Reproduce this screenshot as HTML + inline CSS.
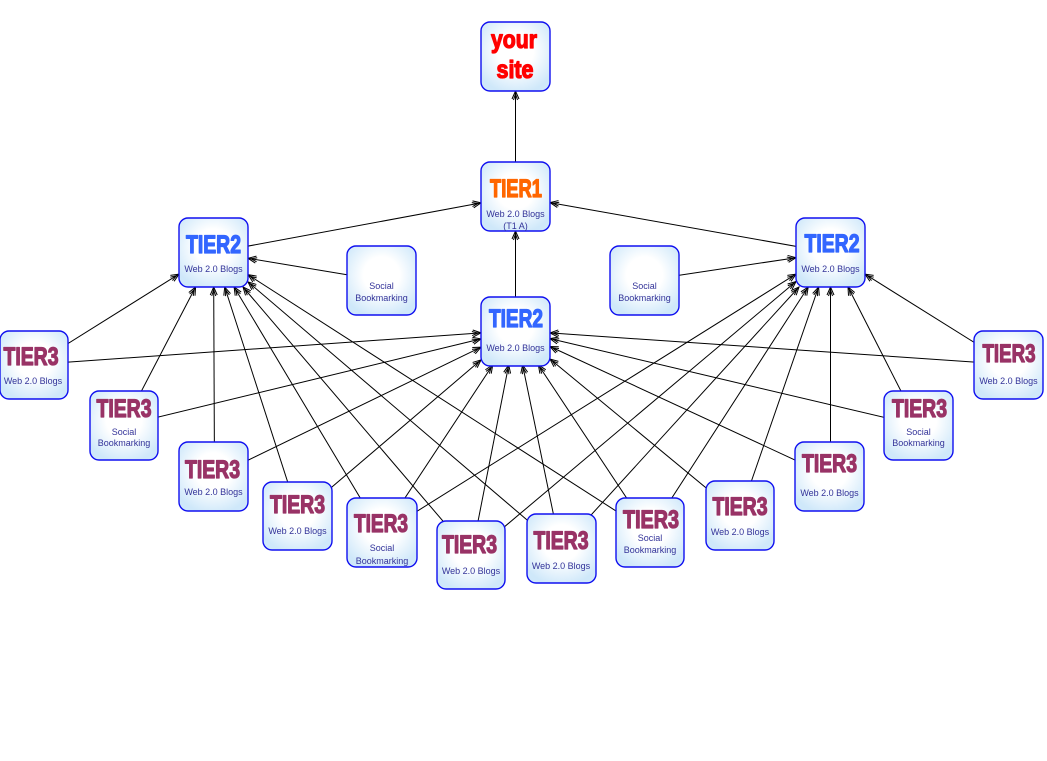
<!DOCTYPE html>
<html><head><meta charset="utf-8"><style>
html,body{margin:0;padding:0;background:#fff;}
svg{display:block;}
.l{stroke:#000;stroke-width:1;marker-end:url(#a);}
.b{fill:url(#g);stroke:#1010f0;stroke-width:1.4;}
.t{font-family:"Liberation Sans",sans-serif;font-weight:700;font-size:25px;text-anchor:middle;stroke-width:1.3;stroke-linejoin:round;}
.t2{fill:#3366ff;stroke:#3366ff;}
.t3{fill:#993366;stroke:#993366;}
.s{font-family:"Liberation Sans",sans-serif;font-size:9px;fill:#333399;text-anchor:middle;}
</style></head><body>
<svg width="1047" height="761" viewBox="0 0 1047 761" xmlns="http://www.w3.org/2000/svg">
<defs>
<radialGradient id="g" cx="50%" cy="42%" r="62%">
<stop offset="0" stop-color="#ffffff"/>
<stop offset="0.42" stop-color="#ffffff"/>
<stop offset="1" stop-color="#cfe8fa"/>
</radialGradient>
<marker id="a" markerWidth="12" markerHeight="10" viewBox="-10 -5 12 10" refX="0" refY="0" orient="auto" markerUnits="userSpaceOnUse">
<path d="M-8,-3.5 L0,0 L-8,3.5 M-9,-2 L-3,0 L-9,2" fill="none" stroke="#000" stroke-width="1"/>
</marker>
</defs>
<rect width="1047" height="761" fill="#fff"/>
<g class="lines">
<line class="l" x1="515.5" y1="196.5" x2="515.5" y2="91"/>
<line class="l" x1="515.5" y1="330.5" x2="515.5" y2="231"/>
<line class="l" x1="213.5" y1="252.5" x2="481" y2="202.9"/>
<line class="l" x1="830.5" y1="252.5" x2="550" y2="202.6"/>
<line class="l" x1="381.5" y1="280.5" x2="248" y2="258.3"/>
<line class="l" x1="644.5" y1="280.5" x2="796" y2="257.7"/>

<line class="l" x1="34.5" y1="364.5" x2="179" y2="274.1"/>
<line class="l" x1="123.5" y1="425.5" x2="195.6" y2="287"/>
<line class="l" x1="214.5" y1="476.5" x2="213.7" y2="287"/>
<line class="l" x1="298.5" y1="515.5" x2="224.7" y2="287"/>
<line class="l" x1="381.5" y1="533.5" x2="234.1" y2="287"/>
<line class="l" x1="471.5" y1="554.5" x2="243" y2="287"/>
<line class="l" x1="560.5" y1="548.5" x2="248" y2="281.9"/>
<line class="l" x1="649.5" y1="532.5" x2="248" y2="274.7"/>

<line class="l" x1="1009.5" y1="364.5" x2="865" y2="274.1"/>
<line class="l" x1="918.5" y1="425.5" x2="848" y2="287"/>
<line class="l" x1="830.5" y1="476.5" x2="830.5" y2="287"/>
<line class="l" x1="739.5" y1="515.5" x2="818.6" y2="287"/>
<line class="l" x1="649.5" y1="532.5" x2="808.2" y2="287"/>
<line class="l" x1="560.5" y1="548.5" x2="799" y2="287"/>
<line class="l" x1="471.5" y1="554.5" x2="796" y2="281.5"/>
<line class="l" x1="381.5" y1="533.5" x2="796" y2="274.1"/>

<line class="l" x1="34.5" y1="364.5" x2="481" y2="332.9"/>
<line class="l" x1="123.5" y1="425.5" x2="481" y2="338.9"/>
<line class="l" x1="214.5" y1="476.5" x2="481" y2="347.2"/>
<line class="l" x1="298.5" y1="515.5" x2="481" y2="359.9"/>
<line class="l" x1="381.5" y1="533.5" x2="492.7" y2="365"/>
<line class="l" x1="471.5" y1="554.5" x2="508.7" y2="365"/>
<line class="l" x1="560.5" y1="548.5" x2="522.6" y2="365"/>
<line class="l" x1="649.5" y1="532.5" x2="538.4" y2="365"/>
<line class="l" x1="739.5" y1="515.5" x2="550" y2="359"/>
<line class="l" x1="830.5" y1="476.5" x2="550" y2="346.5"/>
<line class="l" x1="918.5" y1="425.5" x2="550" y2="338.6"/>
<line class="l" x1="1009.5" y1="364.5" x2="550" y2="332.9"/>
</g>

<!-- your site -->
<rect class="b" x="481" y="22" width="69" height="69" rx="9"/>
<text class="t" x="514" y="48" fill="#ff0000" stroke="#ff0000" textLength="46" lengthAdjust="spacingAndGlyphs">your</text>
<text class="t" x="515" y="78" fill="#ff0000" stroke="#ff0000" textLength="37" lengthAdjust="spacingAndGlyphs">site</text>

<!-- TIER1 -->
<rect class="b" x="481" y="162" width="69" height="69" rx="9"/>
<text class="t" x="516" y="197" fill="#ff6600" stroke="#ff6600" textLength="52" lengthAdjust="spacingAndGlyphs">TIER1</text>
<text class="s" x="515.5" y="217">Web 2.0 Blogs</text>
<text class="s" x="515.5" y="229">(T1 A)</text>

<!-- TIER2 left -->
<rect class="b" x="179" y="218" width="69" height="69" rx="9"/>
<text class="t t2" x="213.5" y="253" textLength="55" lengthAdjust="spacingAndGlyphs">TIER2</text>
<text class="s" x="213.5" y="272">Web 2.0 Blogs</text>

<!-- Social left -->
<rect class="b" x="347" y="246" width="69" height="69" rx="9"/>
<text class="s" x="381.5" y="289">Social</text>
<text class="s" x="381.5" y="301">Bookmarking</text>

<!-- TIER2 center -->
<rect class="b" x="481" y="297" width="69" height="69" rx="9"/>
<text class="t t2" x="516" y="327" textLength="54" lengthAdjust="spacingAndGlyphs">TIER2</text>
<text class="s" x="515.5" y="351">Web 2.0 Blogs</text>

<!-- Social right -->
<rect class="b" x="610" y="246" width="69" height="69" rx="9"/>
<text class="s" x="644.5" y="289">Social</text>
<text class="s" x="644.5" y="301">Bookmarking</text>

<!-- TIER2 right -->
<rect class="b" x="796" y="218" width="69" height="69" rx="9"/>
<text class="t t2" x="832" y="252" textLength="55" lengthAdjust="spacingAndGlyphs">TIER2</text>
<text class="s" x="830.5" y="272">Web 2.0 Blogs</text>

<!-- A -->
<rect class="b" x="0" y="331" width="68" height="68" rx="9"/>
<text class="t t3" x="31" y="365" textLength="55" lengthAdjust="spacingAndGlyphs">TIER3</text>
<text class="s" x="33" y="384">Web 2.0 Blogs</text>

<!-- B -->
<rect class="b" x="90" y="391" width="68" height="69" rx="9"/>
<text class="t t3" x="124" y="417" textLength="55" lengthAdjust="spacingAndGlyphs">TIER3</text>
<text class="s" x="124" y="435">Social</text>
<text class="s" x="124" y="446">Bookmarking</text>

<!-- C -->
<rect class="b" x="179" y="442" width="69" height="69" rx="9"/>
<text class="t t3" x="212.5" y="478" textLength="55" lengthAdjust="spacingAndGlyphs">TIER3</text>
<text class="s" x="213.5" y="495">Web 2.0 Blogs</text>

<!-- D -->
<rect class="b" x="263" y="482" width="69" height="68" rx="9"/>
<text class="t t3" x="297.5" y="513" textLength="55" lengthAdjust="spacingAndGlyphs">TIER3</text>
<text class="s" x="297.5" y="534">Web 2.0 Blogs</text>

<!-- E -->
<rect class="b" x="347" y="498" width="70" height="69" rx="9"/>
<text class="t t3" x="381" y="532" textLength="54" lengthAdjust="spacingAndGlyphs">TIER3</text>
<text class="s" x="382" y="551">Social</text>
<text class="s" x="382" y="564">Bookmarking</text>

<!-- F -->
<rect class="b" x="437" y="521" width="68" height="68" rx="9"/>
<text class="t t3" x="469.5" y="553" textLength="55" lengthAdjust="spacingAndGlyphs">TIER3</text>
<text class="s" x="471" y="574">Web 2.0 Blogs</text>

<!-- G -->
<rect class="b" x="527" y="514" width="69" height="69" rx="9"/>
<text class="t t3" x="561" y="549" textLength="55" lengthAdjust="spacingAndGlyphs">TIER3</text>
<text class="s" x="561" y="569">Web 2.0 Blogs</text>

<!-- H -->
<rect class="b" x="616" y="498" width="68" height="69" rx="9"/>
<text class="t t3" x="651" y="528" textLength="56" lengthAdjust="spacingAndGlyphs">TIER3</text>
<text class="s" x="650" y="541">Social</text>
<text class="s" x="650" y="553">Bookmarking</text>

<!-- I -->
<rect class="b" x="706" y="481" width="68" height="69" rx="9"/>
<text class="t t3" x="740" y="515" textLength="55" lengthAdjust="spacingAndGlyphs">TIER3</text>
<text class="s" x="740" y="535">Web 2.0 Blogs</text>

<!-- J -->
<rect class="b" x="795" y="442" width="69" height="69" rx="9"/>
<text class="t t3" x="829.5" y="472" textLength="55" lengthAdjust="spacingAndGlyphs">TIER3</text>
<text class="s" x="829.5" y="496">Web 2.0 Blogs</text>

<!-- K -->
<rect class="b" x="884" y="391" width="69" height="69" rx="9"/>
<text class="t t3" x="919.5" y="417" textLength="55" lengthAdjust="spacingAndGlyphs">TIER3</text>
<text class="s" x="918.5" y="435">Social</text>
<text class="s" x="918.5" y="446">Bookmarking</text>

<!-- L -->
<rect class="b" x="974" y="331" width="69" height="68" rx="9"/>
<text class="t t3" x="1009" y="362" textLength="53" lengthAdjust="spacingAndGlyphs">TIER3</text>
<text class="s" x="1008.5" y="384">Web 2.0 Blogs</text>
</svg>
</body></html>
